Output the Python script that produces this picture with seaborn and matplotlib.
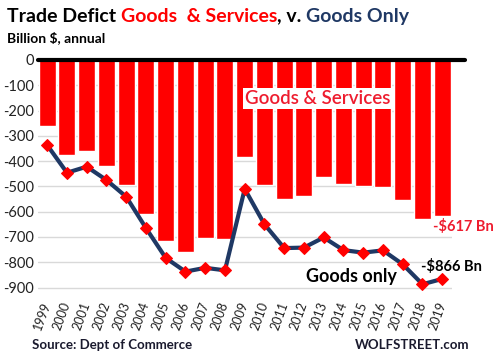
import matplotlib
matplotlib.use("Agg")
import matplotlib.pyplot as plt
import seaborn as sns
import pandas as pd

years = [str(y) for y in range(1999, 2020)]
goods_services = [-263, -375, -362, -421, -495, -610, -714, -761, -705, -709,
                  -384, -495, -549, -537, -462, -490, -499, -503, -552, -628, -617]
goods_only = [-337, -446, -422, -475, -541, -665, -783, -837, -822, -832,
              -510, -650, -744, -742, -702, -752, -762, -753, -808, -887, -866]
y_ticks = [0, -100, -200, -300, -400, -500, -600, -700, -800, -900]

RED = "#ff0000"
LABEL_RED = "#ee1c2e"
NAVY = "#1f3864"

sns.set_style("white")
plt.rcParams["font.family"] = ["Lato", "DejaVu Sans"]

df = pd.DataFrame({"year": years, "gs": goods_services, "goods": goods_only})
df["pos"] = range(len(df))

fig = plt.figure(figsize=(4.93, 3.59), dpi=100)
ax = fig.add_axes([0.077, 0.192, 0.84, 0.641])

sns.barplot(data=df, x="year", y="gs", color=RED, saturation=1, width=0.86, ax=ax, zorder=2)
sns.lineplot(data=df, x="pos", y="goods", color=NAVY, linewidth=3, marker="D",
             markersize=6.5, markerfacecolor=RED, markeredgecolor=RED, ax=ax, zorder=3)

ax.set_xlim(-0.47, 20.5)
ax.set_ylim(-910, 0)
ax.set_yticks(y_ticks)
ax.set_yticklabels([str(v) for v in y_ticks], fontsize=10.5, color="#222222")
ax.set_xticks(df["pos"])
ax.set_xticklabels(years, rotation=70, fontsize=9, ha="right", va="center",
                   rotation_mode="anchor", color="#222222")
ax.tick_params(axis="x", length=0, pad=9)
ax.tick_params(axis="y", length=0, pad=3)
ax.yaxis.grid(True, color="#d9d9d9", linewidth=1, zorder=0)
ax.set_axisbelow(True)
for s in ax.spines.values():
    s.set_visible(False)
ax.set_xlabel("")
ax.set_ylabel("")
ax.axhline(0, xmin=0, xmax=1.03, color="black", linewidth=3, clip_on=False, zorder=4)

# title in pieces, chained left to right
fig.canvas.draw()
renderer = fig.canvas.get_renderer()
x = 0.014
for part, col in [("Trade Defict ", "black"), ("Goods  & Services", RED),
                  (", v. ", "black"), ("Goods Only", NAVY)]:
    t = fig.text(x, 0.955, part, fontsize=14, fontweight="bold", color=col, va="center")
    bb = t.get_window_extent(renderer)
    x += bb.width / fig.bbox.width
fig.text(0.014, 0.895, "Billion $, annual", fontsize=10, fontweight="bold", color="black", va="center")

ax.text(10.0, -152, "Goods & Services", fontsize=13.5, color=LABEL_RED, fontweight="semibold",
        va="center", ha="left", bbox=dict(facecolor="white", edgecolor="none", pad=1.5), zorder=5)
ax.text(19.55, -660, "-$617 Bn", fontsize=10.5, color=LABEL_RED, fontweight="bold", va="center", ha="left")
ax.text(18.95, -818, "-$866 Bn", fontsize=10.5, color="black", fontweight="bold", va="center", ha="left")
ax.text(13.1, -857, "Goods only", fontsize=13, color="black", fontweight="bold", va="center", ha="left")

fig.text(0.065, 0.039, "Source: Dept of Commerce", fontsize=9.5, fontweight="bold", color="#1a1a2e", va="center")
fig.text(0.72, 0.039, "WOLFSTREET.com", fontsize=9.5, fontweight="bold", color="#1a1a2e", va="center")

fig.savefig("out.png", dpi=100)
